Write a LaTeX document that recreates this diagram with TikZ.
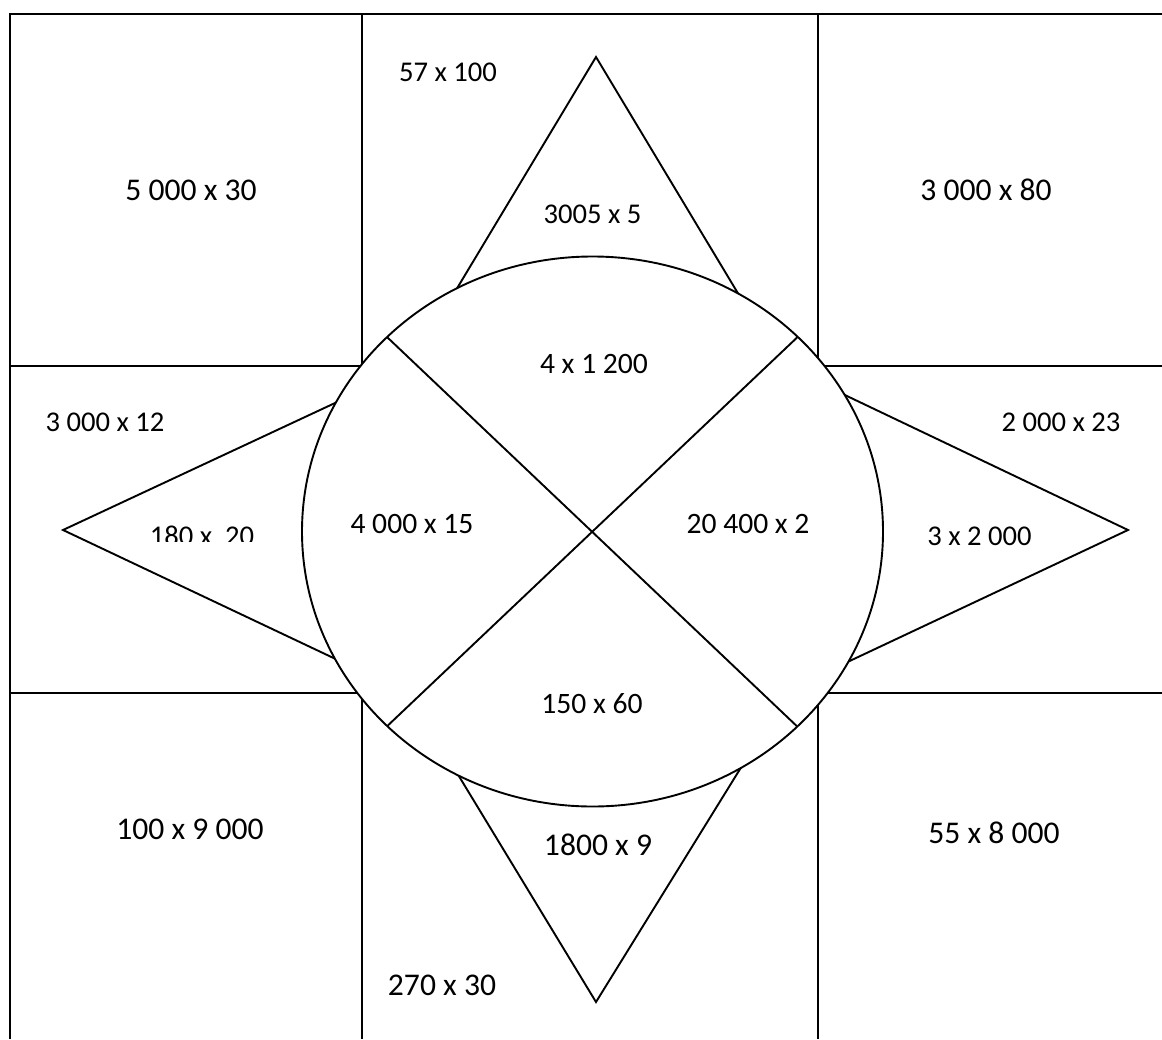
\documentclass[tikz,border=0pt]{standalone}
\usepackage{fontspec}
\setmainfont{Carlito}
\usetikzlibrary{shapes.geometric}
\begin{document}
\begin{tikzpicture}[x=1pt,y=-1pt,line width=2pt,
  lbl/.style={anchor=base,inner sep=0pt,font=\fontsize{28.6}{34}\selectfont},
  midlbl/.style={anchor=base,inner sep=0pt,font=\fontsize{29.6}{35}\selectfont},
  biglbl/.style={anchor=base,inner sep=0pt,font=\fontsize{31.6}{38}\selectfont},
  shapeline/.style={draw=black,line width=1.9pt,line join=miter}]
\useasboundingbox (0,0) rectangle (1162,1039);
% grid
\draw[line width=2.2pt] (10,1039) -- (10,14) -- (1162,14);
\draw (362,14) -- (362,1039);
\draw (818,14) -- (818,1039);
\draw (10,366) -- (1162,366);
\draw (10,693) -- (1162,693);
% triangles (bases hidden under the circle)
\coordinate (tT) at (596,57);
\coordinate (tB) at (596,1002);
\coordinate (tL) at (63,530);
\coordinate (tR) at (1128,530);
\draw[shapeline] (tT) -- (432,330) -- (760,330) -- cycle;
\draw[shapeline] (tB) -- (437,740) -- (758,740) -- cycle;
\draw[shapeline] (tL) -- (380,382) -- (380,680) -- cycle;
\draw[shapeline] (tR) -- (805,376) -- (805,682) -- cycle;
% ellipse
\node[shapeline,fill=white,ellipse,minimum width=581pt,minimum height=550pt,inner sep=0pt] (ell) at (592.5,531.5) {};
\coordinate (d1) at (387.3,337.3);
\coordinate (d2) at (797.3,337.3);
\coordinate (d3) at (387.3,726);
\coordinate (d4) at (796.7,726);
\draw[shapeline] (d1) -- (d4);
\draw[shapeline] (d2) -- (d3);
% labels
\node[biglbl] (a1) at (191,200.7) {5 000 x 30};
\node[lbl] (a2) at (448,81) {57 x 100};
\node[lbl] (a3) at (592.5,223) {3005 x 5};
\node[biglbl] (a4) at (986,200.7) {3 000 x 80};
\node[midlbl] (a5) at (594,373) {4 x 1 200};
\node[lbl] (a6) at (105,431) {3 000 x 12};
\node[lbl] (a7) at (1061,431) {2 000 x 23};
\begin{scope}
\clip (120,500) rectangle (300,541.7);
\node[lbl] (a8) at (202,545) {180 x\ \ 20};
\end{scope}
\node[midlbl] (a9) at (412,533) {4 000 x 15};
\node[midlbl] (a10) at (748,533) {20 400 x 2};
\node[lbl] (a11) at (979.5,545) {3 x 2 000};
\node[midlbl] (a12) at (592,713) {150 x 60};
\node[biglbl] (a13) at (598,855) {1800 x 9};
\node[biglbl] (a14) at (190,839) {100 x 9 000};
\node[biglbl] (a15) at (994,843) {55 x 8 000};
\node[biglbl] (a16) at (442,995) {270 x 30};
\end{tikzpicture}
\end{document}
